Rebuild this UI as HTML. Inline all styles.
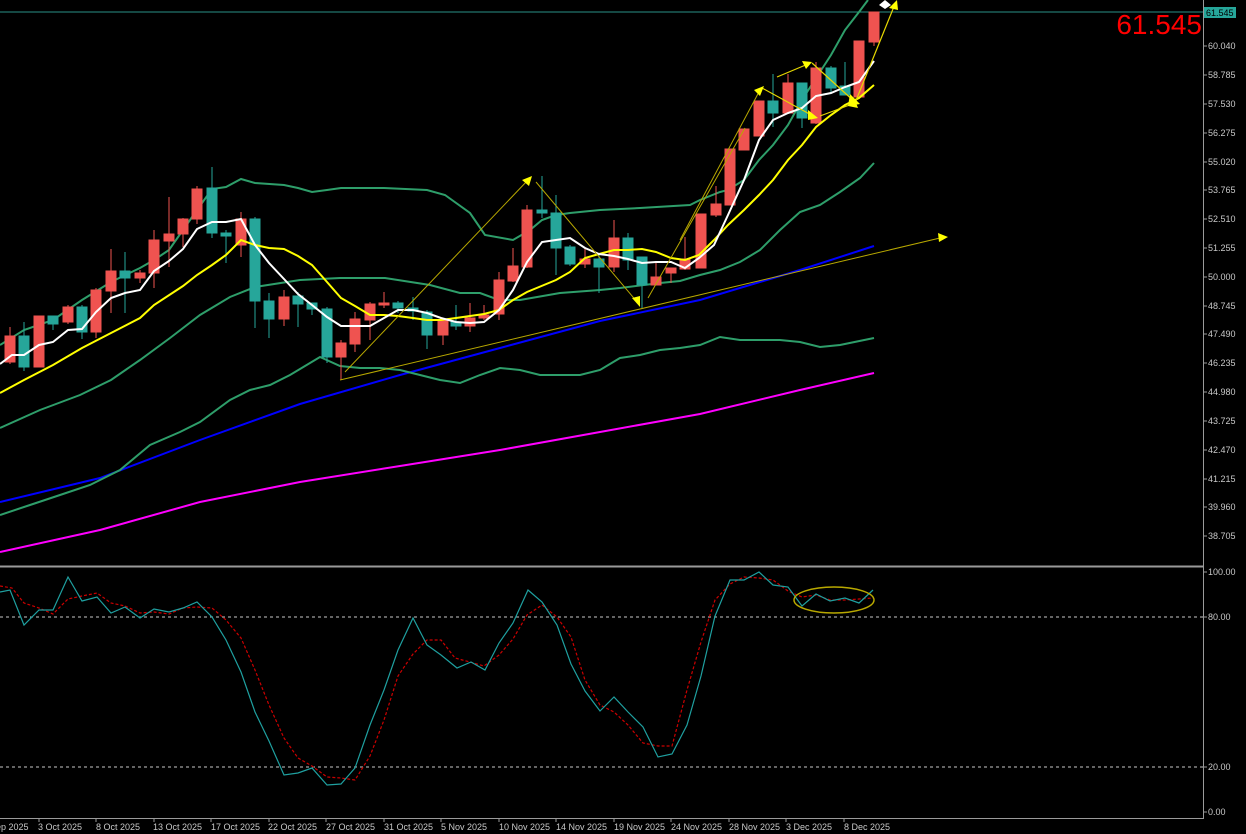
<!DOCTYPE html>
<html><head><meta charset="utf-8"><style>
html,body{margin:0;padding:0;background:#000;}
svg{display:block;font-family:"Liberation Sans",sans-serif;}
</style></head><body>
<svg width="1246" height="834" viewBox="0 0 1246 834" xmlns="http://www.w3.org/2000/svg">
<rect width="1246" height="834" fill="#000"/>
<!-- frames -->
<line x1="0" y1="566.5" x2="1204" y2="566.5" stroke="#9a9a9a" stroke-width="2"/>
<line x1="1203.5" y1="0" x2="1203.5" y2="818" stroke="#9a9a9a"/>
<line x1="0" y1="818.5" x2="1204" y2="818.5" stroke="#9a9a9a"/>
<!-- price line -->
<line x1="0" y1="12" x2="1203" y2="12" stroke="#2a8f86" stroke-width="1"/>
<!-- price axis labels -->
<g fill="#c8c8c8" font-size="9" stroke="#9a9a9a">
<g stroke-width="1">
<line x1="1203" y1="46" x2="1207" y2="46"/><line x1="1203" y1="75" x2="1207" y2="75"/><line x1="1203" y1="104" x2="1207" y2="104"/><line x1="1203" y1="133" x2="1207" y2="133"/><line x1="1203" y1="162" x2="1207" y2="162"/><line x1="1203" y1="190" x2="1207" y2="190"/><line x1="1203" y1="219" x2="1207" y2="219"/><line x1="1203" y1="248" x2="1207" y2="248"/><line x1="1203" y1="277" x2="1207" y2="277"/><line x1="1203" y1="306" x2="1207" y2="306"/><line x1="1203" y1="334" x2="1207" y2="334"/><line x1="1203" y1="363" x2="1207" y2="363"/><line x1="1203" y1="392" x2="1207" y2="392"/><line x1="1203" y1="421" x2="1207" y2="421"/><line x1="1203" y1="450" x2="1207" y2="450"/><line x1="1203" y1="479" x2="1207" y2="479"/><line x1="1203" y1="507" x2="1207" y2="507"/><line x1="1203" y1="536" x2="1207" y2="536"/>
<line x1="1203" y1="572" x2="1207" y2="572"/><line x1="1203" y1="617" x2="1207" y2="617"/><line x1="1203" y1="767" x2="1207" y2="767"/><line x1="1203" y1="812" x2="1207" y2="812"/>
</g>
<g stroke="none">
<text x="1208" y="49">60.040</text><text x="1208" y="78">58.785</text><text x="1208" y="107">57.530</text><text x="1208" y="136">56.275</text><text x="1208" y="165">55.020</text><text x="1208" y="193">53.765</text><text x="1208" y="222">52.510</text><text x="1208" y="251">51.255</text><text x="1208" y="280">50.000</text><text x="1208" y="309">48.745</text><text x="1208" y="337">47.490</text><text x="1208" y="366">46.235</text><text x="1208" y="395">44.980</text><text x="1208" y="424">43.725</text><text x="1208" y="453">42.470</text><text x="1208" y="482">41.215</text><text x="1208" y="510">39.960</text><text x="1208" y="539">38.705</text>
<text x="1208" y="575">100.00</text><text x="1208" y="620">80.00</text><text x="1208" y="770">20.00</text><text x="1208" y="815">0.00</text>
</g>
</g>
<rect x="1204" y="7" width="32" height="11" fill="#26a69a"/>
<text x="1206" y="16" font-size="9" fill="#000">61.545</text>
<text x="1202" y="34" font-size="28" fill="#ff0000" text-anchor="end">61.545</text>
<!-- date axis -->
<g fill="#c8c8c8" font-size="9" stroke="#9a9a9a">
<g>
<line x1="39" y1="818" x2="39" y2="822"/><line x1="96" y1="818" x2="96" y2="822"/><line x1="154" y1="818" x2="154" y2="822"/><line x1="211" y1="818" x2="211" y2="822"/><line x1="269" y1="818" x2="269" y2="822"/><line x1="326" y1="818" x2="326" y2="822"/><line x1="384" y1="818" x2="384" y2="822"/><line x1="441" y1="818" x2="441" y2="822"/><line x1="499" y1="818" x2="499" y2="822"/><line x1="556" y1="818" x2="556" y2="822"/><line x1="614" y1="818" x2="614" y2="822"/><line x1="671" y1="818" x2="671" y2="822"/><line x1="729" y1="818" x2="729" y2="822"/><line x1="786" y1="818" x2="786" y2="822"/><line x1="844" y1="818" x2="844" y2="822"/>
</g>
<g stroke="none">
<text x="-4" y="830">ep 2025</text><text x="38" y="830">3 Oct 2025</text><text x="96" y="830">8 Oct 2025</text><text x="153" y="830">13 Oct 2025</text><text x="211" y="830">17 Oct 2025</text><text x="268" y="830">22 Oct 2025</text><text x="326" y="830">27 Oct 2025</text><text x="384" y="830">31 Oct 2025</text><text x="441" y="830">5 Nov 2025</text><text x="499" y="830">10 Nov 2025</text><text x="556" y="830">14 Nov 2025</text><text x="614" y="830">19 Nov 2025</text><text x="671" y="830">24 Nov 2025</text><text x="729" y="830">28 Nov 2025</text><text x="786" y="830">3 Dec 2025</text><text x="844" y="830">8 Dec 2025</text>
</g>
</g>
<!-- magenta & blue MAs -->
<polyline fill="none" stroke="#ff00ff" stroke-width="2" points="0,552 100,530 200,502 300,482 400,466 500,450 600,432 700,414 800,390 874,373"/>
<polyline fill="none" stroke="#0000ff" stroke-width="2" points="0,502 100,478 200,440 300,404 400,375 500,348 600,321 700,300 800,270 874,246"/>
<!-- bollinger -->
<g fill="none" stroke="#2e9e6a" stroke-width="2">
<polyline points="0,345 24,330 53,320 82,300 111,282 140,268 154,260 169,250 183,230 197,210 212,189 226,187 241,179 255,183 284,185 298,188 312,192 327,190 341,188 384,188 427,190 445,195 470,213 485,235 513,240 530,230 542,220 556,215 570,213 600,210 640,208 690,205 700,200 720,192 728,190 744,180 759,160 773,145 788,125 802,100 816,78 831,55 845,30 859,12 868,0"/>
<polyline points="0,428 40,410 80,395 111,380 140,360 170,338 200,315 230,297 255,287 300,280 340,278 385,278 430,285 460,293 480,293 499,300 520,300 560,293 600,290 620,288 660,283 680,281 700,275 720,270 740,262 760,250 780,230 800,212 820,205 840,192 860,178 874,163"/>
<polyline points="0,515 30,505 60,495 90,485 120,470 150,445 180,432 200,422 230,400 250,390 270,385 290,375 310,363 320,357 340,366 360,368 380,368 400,370 420,375 440,380 460,383 480,375 500,368 520,370 540,375 580,375 600,370 620,358 640,355 660,350 680,348 700,345 720,337 740,340 780,340 800,342 820,347 840,345 874,338"/>
</g>
<!-- candles -->
<g id="c" stroke-width="1">
<script></script>
</g>
<g>
<!-- x, bodyTop, bodyBot, wickTop, wickBot, color -->
<g stroke="#ef5350" fill="#ef5350">
<line x1="10" y1="327" x2="10" y2="364"/><rect x="5" y="336" width="10" height="26"/>
<line x1="39" y1="316" x2="39" y2="367"/><rect x="34" y="316" width="10" height="51"/>
<line x1="68" y1="305" x2="68" y2="324"/><rect x="63" y="307" width="10" height="15"/>
<line x1="96" y1="288" x2="96" y2="338"/><rect x="91" y="290" width="10" height="42"/>
<line x1="111" y1="249" x2="111" y2="313"/><rect x="106" y="271" width="10" height="20"/>
<line x1="140" y1="270" x2="140" y2="283"/><rect x="135" y="273" width="10" height="5"/>
<line x1="154" y1="230" x2="154" y2="288"/><rect x="149" y="240" width="10" height="33"/>
<line x1="169" y1="197" x2="169" y2="267"/><rect x="164" y="234" width="10" height="7"/>
<line x1="183" y1="218" x2="183" y2="247"/><rect x="178" y="219" width="10" height="15"/>
<line x1="197" y1="186" x2="197" y2="224"/><rect x="192" y="189" width="10" height="30"/>
<line x1="241" y1="212" x2="241" y2="257"/><rect x="236" y="219" width="10" height="26"/>
<line x1="284" y1="290" x2="284" y2="326"/><rect x="279" y="297" width="10" height="22"/>
<line x1="341" y1="340" x2="341" y2="380"/><rect x="336" y="343" width="10" height="14"/>
<line x1="355" y1="312" x2="355" y2="352"/><rect x="350" y="319" width="10" height="25"/>
<line x1="370" y1="302" x2="370" y2="340"/><rect x="365" y="304" width="10" height="16"/>
<line x1="384" y1="292" x2="384" y2="308"/><rect x="379" y="303" width="10" height="2"/>
<line x1="443" y1="318" x2="443" y2="345"/><rect x="438" y="320" width="10" height="15"/>
<line x1="470" y1="303" x2="470" y2="332"/><rect x="465" y="318" width="10" height="8"/>
<line x1="484" y1="305" x2="484" y2="320"/><rect x="479" y="315" width="10" height="3"/>
<line x1="499" y1="272" x2="499" y2="320"/><rect x="494" y="280" width="10" height="34"/>
<line x1="513" y1="248" x2="513" y2="282"/><rect x="508" y="266" width="10" height="15"/>
<line x1="527" y1="205" x2="527" y2="268"/><rect x="522" y="210" width="10" height="57"/>
<line x1="585" y1="247" x2="585" y2="268"/><rect x="580" y="259" width="10" height="5"/>
<line x1="614" y1="220" x2="614" y2="272"/><rect x="609" y="238" width="10" height="29"/>
<line x1="656" y1="262" x2="656" y2="285"/><rect x="651" y="277" width="10" height="8"/>
<line x1="671" y1="268" x2="671" y2="283"/><rect x="666" y="268" width="10" height="5"/>
<line x1="685" y1="237" x2="685" y2="270"/><rect x="680" y="259" width="10" height="10"/>
<line x1="701" y1="214" x2="701" y2="268"/><rect x="696" y="214" width="10" height="54"/>
<line x1="716" y1="186" x2="716" y2="217"/><rect x="711" y="204" width="10" height="11"/>
<line x1="730" y1="149" x2="730" y2="205"/><rect x="725" y="149" width="10" height="56"/>
<line x1="744" y1="129" x2="744" y2="150"/><rect x="739" y="129" width="10" height="21"/>
<line x1="759" y1="101" x2="759" y2="136"/><rect x="754" y="101" width="10" height="35"/>
<line x1="788" y1="74" x2="788" y2="113"/><rect x="783" y="83" width="10" height="30"/>
<line x1="816" y1="62" x2="816" y2="124"/><rect x="811" y="68" width="10" height="55"/>
<line x1="859" y1="41" x2="859" y2="97"/><rect x="854" y="41" width="10" height="56"/>
<line x1="874" y1="12" x2="874" y2="46"/><rect x="869" y="12" width="10" height="30"/>
</g>
<g stroke="#26a69a" fill="#26a69a">
<line x1="24" y1="322" x2="24" y2="371"/><rect x="19" y="336" width="10" height="31"/>
<line x1="53" y1="316" x2="53" y2="330"/><rect x="48" y="316" width="10" height="8"/>
<line x1="82" y1="305" x2="82" y2="339"/><rect x="77" y="307" width="10" height="25"/>
<line x1="125" y1="252" x2="125" y2="313"/><rect x="120" y="271" width="10" height="7"/>
<line x1="212" y1="167" x2="212" y2="238"/><rect x="207" y="188" width="10" height="45"/>
<line x1="226" y1="230" x2="226" y2="263"/><rect x="221" y="233" width="10" height="3"/>
<line x1="255" y1="217" x2="255" y2="328"/><rect x="250" y="219" width="10" height="82"/>
<line x1="269" y1="293" x2="269" y2="338"/><rect x="264" y="301" width="10" height="18"/>
<line x1="298" y1="292" x2="298" y2="327"/><rect x="293" y="296" width="10" height="8"/>
<line x1="312" y1="303" x2="312" y2="315"/><rect x="307" y="303" width="10" height="6"/>
<line x1="327" y1="307" x2="327" y2="363"/><rect x="322" y="309" width="10" height="48"/>
<line x1="398" y1="301" x2="398" y2="313"/><rect x="393" y="303" width="10" height="5"/>
<line x1="413" y1="297" x2="413" y2="320"/><rect x="408" y="308" width="10" height="3"/>
<line x1="427" y1="310" x2="427" y2="349"/><rect x="422" y="312" width="10" height="23"/>
<line x1="456" y1="305" x2="456" y2="330"/><rect x="451" y="322" width="10" height="4"/>
<line x1="542" y1="176" x2="542" y2="218"/><rect x="537" y="210" width="10" height="3"/>
<line x1="556" y1="195" x2="556" y2="275"/><rect x="551" y="213" width="10" height="35"/>
<line x1="570" y1="245" x2="570" y2="266"/><rect x="565" y="247" width="10" height="17"/>
<line x1="599" y1="255" x2="599" y2="293"/><rect x="594" y="259" width="10" height="8"/>
<line x1="628" y1="233" x2="628" y2="270"/><rect x="623" y="238" width="10" height="22"/>
<line x1="642" y1="257" x2="642" y2="308"/><rect x="637" y="257" width="10" height="28"/>
<line x1="773" y1="74" x2="773" y2="127"/><rect x="768" y="101" width="10" height="12"/>
<line x1="802" y1="83" x2="802" y2="128"/><rect x="797" y="83" width="10" height="35"/>
<line x1="831" y1="66" x2="831" y2="92"/><rect x="826" y="68" width="10" height="20"/>
<line x1="845" y1="62" x2="845" y2="95"/><rect x="840" y="86" width="10" height="9"/>
</g>
</g>
<!-- MAs -->
<polyline fill="none" stroke="#ffff00" stroke-width="2" points="0,393 24,380 53,365 82,348 111,333 140,318 154,305 183,286 197,275 212,265 226,255 241,240 255,245 269,248 284,249 298,256 312,265 327,282 341,298 355,306 370,315 384,315 398,316 413,318 427,320 441,320 456,318 484,314 499,310 513,300 527,292 556,280 570,272 585,258 599,254 614,250 628,250 642,249 656,252 671,258 685,260 699,255 714,240 728,225 744,210 759,195 773,180 788,160 802,145 816,127 831,115 845,105 859,98 874,85"/>
<polyline fill="none" stroke="#ffffff" stroke-width="2" points="0,364 12,355 24,355 39,345 53,342 68,330 82,329 96,312 111,298 125,293 140,290 154,271 169,261 183,249 197,229 212,222 226,222 241,219 255,245 269,263 284,279 298,294 312,305 327,317 341,326 355,326 370,326 384,318 398,310 413,310 427,313 441,318 456,322 470,323 484,322 499,310 513,290 527,262 542,242 556,240 570,238 585,248 599,254 614,256 628,259 642,263 656,262 671,262 685,268 699,258 714,245 728,215 744,180 759,140 773,120 788,113 802,108 816,96 831,93 845,87 859,82 874,61"/>
<!-- trendlines -->
<g stroke="#b8a800" stroke-width="1" fill="none">
<line x1="340" y1="380" x2="940" y2="238"/>
<line x1="345" y1="372" x2="528" y2="180"/>
<line x1="536" y1="182" x2="638" y2="303"/>
<line x1="648" y1="298" x2="745" y2="128"/>
<line x1="680" y1="240" x2="760" y2="90"/>
</g>
<g stroke="#e6d800" stroke-width="1.2" fill="none">
<line x1="762" y1="88" x2="815" y2="117"/>
<line x1="777" y1="77" x2="808" y2="64"/>
<line x1="812" y1="63" x2="856" y2="103"/>
<line x1="820" y1="116" x2="855" y2="103"/>
<line x1="855" y1="103" x2="895" y2="4"/>
</g>
<g fill="#ffff00">
<polygon points="948,237 938,233 939,242"/>
<polygon points="532,176 522,180 529,186"/>
<polygon points="640,307 632,298 640,296"/>
<polygon points="764,86 754,90 760,96"/>
<polygon points="812,62 802,61 806,69"/>
<polygon points="818,118 808,110 808,120"/>
<polygon points="860,104 850,94 848,106"/>
<polygon points="855,100 848,106 858,108"/>
<polygon points="897,0 889,8 898,10"/>
</g>
<polygon points="885,0 891,5 885,9 879,5" fill="#fff"/>
<!-- stochastic -->
<g stroke="#c8c8c8" stroke-dasharray="3,3" stroke-width="1">
<line x1="0" y1="617" x2="1203" y2="617"/>
<line x1="0" y1="767" x2="1203" y2="767"/>
</g>
<polyline fill="none" stroke="#cc0000" stroke-width="1.2" stroke-dasharray="3,2" points="0,586 12,588 24,603 39,608 53,614 68,599 82,596 97,593 111,603 125,606 140,613 154,612 169,614 183,608 197,607 212,608 226,620 241,638 255,670 269,705 284,738 298,758 312,766 327,777 341,778 355,780 370,756 384,720 398,676 413,654 427,640 441,640 455,658 470,662 484,666 499,655 513,639 527,615 542,605 557,617 571,637 585,680 600,705 614,712 628,725 643,743 658,746 672,746 687,690 701,642 715,600 730,584 744,577 759,578 773,580 788,591 802,597 816,595 830,600 845,600 859,599 873,598"/>
<polyline fill="none" stroke="#1fa0a0" stroke-width="1.2" points="0,592 10,590 24,625 39,610 53,610 68,577 82,601 97,597 111,613 125,607 140,618 154,609 169,612 183,608 197,602 212,617 226,640 241,672 255,712 269,741 284,775 298,773 312,768 327,785 341,784 355,768 370,725 384,690 398,650 413,618 427,645 441,655 457,668 471,662 485,670 499,643 513,623 528,590 542,602 557,625 571,664 585,691 600,711 614,697 628,712 643,727 658,757 672,754 687,725 701,676 715,616 730,580 744,580 759,572 773,585 788,587 802,606 816,594 830,601 845,598 859,603 873,590"/>
<ellipse cx="834" cy="600" rx="40" ry="13" fill="none" stroke="#b8a800" stroke-width="1.5"/>
</svg>
</body></html>
